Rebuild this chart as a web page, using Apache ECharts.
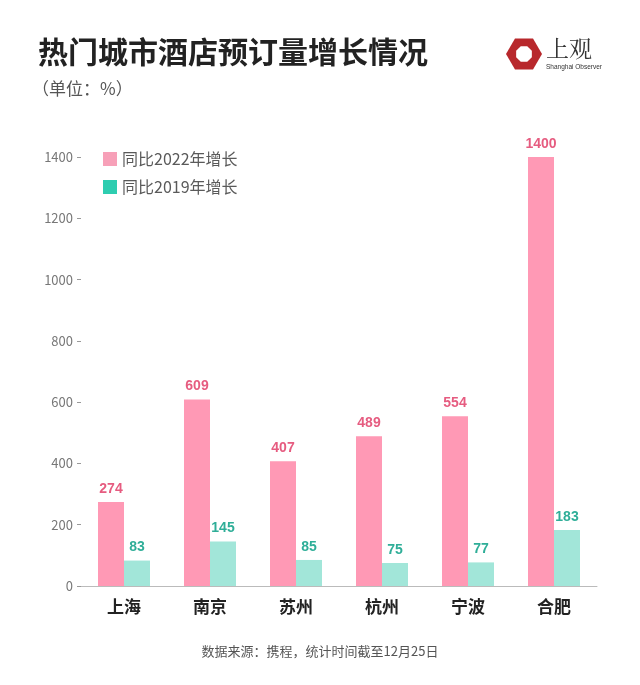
<!DOCTYPE html>
<html><head><meta charset="utf-8">
<script src="https://cdn.jsdelivr.net/npm/echarts@6/dist/echarts.min.js"></script>
<style>html,body{margin:0;padding:0;background:#fff}#c{width:640px;height:685px}</style>
</head><body><div id="c"></div>
<script>
const categories = ['上海','南京','苏州','杭州','宁波','合肥'];
const growth2022 = [274, 609, 407, 489, 554, 1400];
const growth2019 = [83, 145, 85, 75, 77, 183];
const yTicks = [0, 200, 400, 600, 800, 1000, 1200, 1400];
const seriesNames = ['同比2022年增长','同比2019年增长'];

const font = '"Noto Sans CJK SC", "Noto Sans", sans-serif';
const chart = echarts.init(document.getElementById('c'), null, {renderer:'canvas'});
function hexPts(cx, cy, r, n, off){const p=[];for(let i=0;i<n;i++){const a=Math.PI/180*(360/n*i+off);p.push([cx+r*Math.cos(a),cy+r*Math.sin(a)]);}return p;}
chart.setOption({
  backgroundColor:'#fff',
  textStyle:{fontFamily:font},
  animation:false,
  title:[
    {text:'热门城市酒店预订量增长情况', left:33, top:32, textStyle:{fontSize:30, fontWeight:'bold', color:'#222', fontFamily:font}},
    {text:'（单位：%）', left:27, top:75, textStyle:{fontSize:17, fontWeight:'normal', color:'#555', fontFamily:font}},
    {text:'数据来源：携程，统计时间截至12月25日', left:'center', top:640, textStyle:{fontSize:13, fontWeight:'normal', color:'#555', fontFamily:font}}
  ],
  legend:{
    orient:'vertical', left:98, top:146, itemWidth:14, itemHeight:14, itemGap:12,
    icon:'rect',
    textStyle:{fontSize:16, color:'#5a5a5a', fontFamily:font},
    data:[
      {name:seriesNames[0], itemStyle:{color:'#F7A0B8'}},
      {name:seriesNames[1], itemStyle:{color:'#2ECDB0'}}
    ]
  },
  grid:{left:81, right:43, top:157, bottom:99, containLabel:false},
  xAxis:{
    type:'category', data:categories,
    axisLine:{show:true, lineStyle:{color:'#bbb', width:1}},
    axisTick:{show:false},
    axisLabel:{fontSize:17, fontWeight:'bold', color:'#222', margin:12, fontFamily:font}
  },
  yAxis:{
    type:'value', min:0, max:1400, interval:200,
    axisLine:{show:false},
    axisTick:{show:true, length:4, lineStyle:{color:'#999'}},
    splitLine:{show:false},
    axisLabel:{fontSize:13, color:'#777', margin:8, fontFamily:font,
      formatter:function(v){return yTicks.indexOf(v)>=0 ? String(v) : '';}}
  },
  series:[
    {name:seriesNames[0], type:'bar', data:growth2022, barWidth:26, barGap:'0%',
      itemStyle:{color:'#FF99B5'},
      label:{show:true, position:'top', distance:6, fontSize:14, fontWeight:'bold', color:'#E65C80', fontFamily:'"Liberation Sans", Arial, sans-serif'}},
    {name:seriesNames[1], type:'bar', data:growth2019, barWidth:26,
      itemStyle:{color:'#A2E6D9'},
      label:{show:true, position:'top', distance:6, fontSize:14, fontWeight:'bold', color:'#2FAE98', fontFamily:'"Liberation Sans", Arial, sans-serif'}}
  ],
  graphic:[
    {type:'polygon', shape:{points:hexPts(524,54,18,6,0)}, style:{fill:'#B8282C'}},
    {type:'polygon', shape:{points:hexPts(524,54,8.5,8,22.5)}, style:{fill:'#fff'}},
    {type:'text', left:546, top:37, style:{text:'上观', fontSize:23, fill:'#333', fontFamily:'"Noto Serif CJK SC", "Noto Sans CJK SC", serif'}},
    {type:'text', left:546, top:64, style:{text:'Shanghai Observer', fontSize:6.5, fill:'#333', fontFamily:'"Liberation Sans", Arial, sans-serif'}}
  ]
});
</script></body></html>
